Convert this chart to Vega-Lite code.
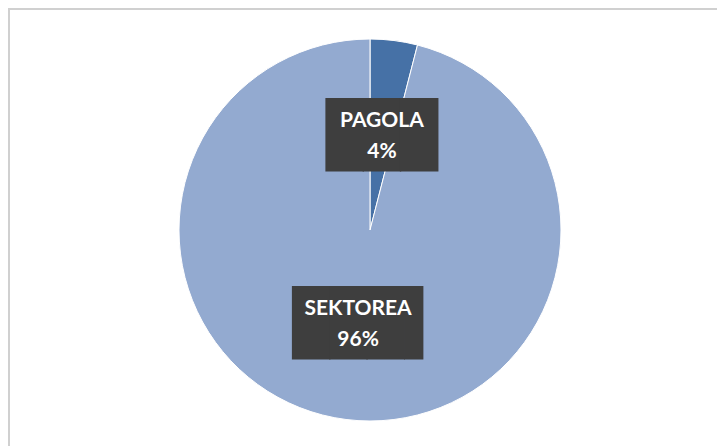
{
  "$schema": "https://vega.github.io/schema/vega-lite/v6.json",
  "width": 722,
  "height": 442,
  "padding": {"left": 9, "top": 9, "right": 0, "bottom": 0},
  "autosize": {"type": "none"},
  "background": "white",
  "view": {"stroke": "#d0d0d0", "strokeWidth": 2},
  "data": {"values": [
    {"category": "PAGOLA", "share": 4},
    {"category": "SEKTOREA", "share": 96}
  ]},
  "transform": [
    {"calculate": "[datum.category, datum.share + '%']", "as": "label"},
    {"calculate": "length(datum.category) > 6 ? '███▌' : '███'", "as": "box"}
  ],
  "encoding": {
    "theta": {"field": "share", "type": "quantitative", "stack": true},
    "color": {
      "field": "category", "type": "nominal",
      "scale": {"domain": ["PAGOLA", "SEKTOREA"], "range": ["#4671a6", "#93aad0"]},
      "legend": null
    }
  },
  "layer": [
    {"mark": {"type": "arc", "outerRadius": 191, "stroke": "white", "strokeWidth": 1}},
    {
      "mark": {"type": "text", "radius": 95, "font": "DejaVu Sans Mono", "fontSize": 62, "baseline": "middle", "align": "center", "dy": 1, "dx": {"expr": "length(datum.category) > 6 ? 9 : 0"}},
      "encoding": {"text": {"field": "box"}, "color": {"value": "#3e3e3e"}}
    },
    {
      "mark": {"type": "text", "radius": 95, "font": "Lato", "fontWeight": "bold", "fontSize": 21, "lineHeight": 31, "baseline": "middle", "align": "center", "dy": -15},
      "encoding": {"text": {"field": "label"}, "color": {"value": "white"}}
    }
  ]
}
